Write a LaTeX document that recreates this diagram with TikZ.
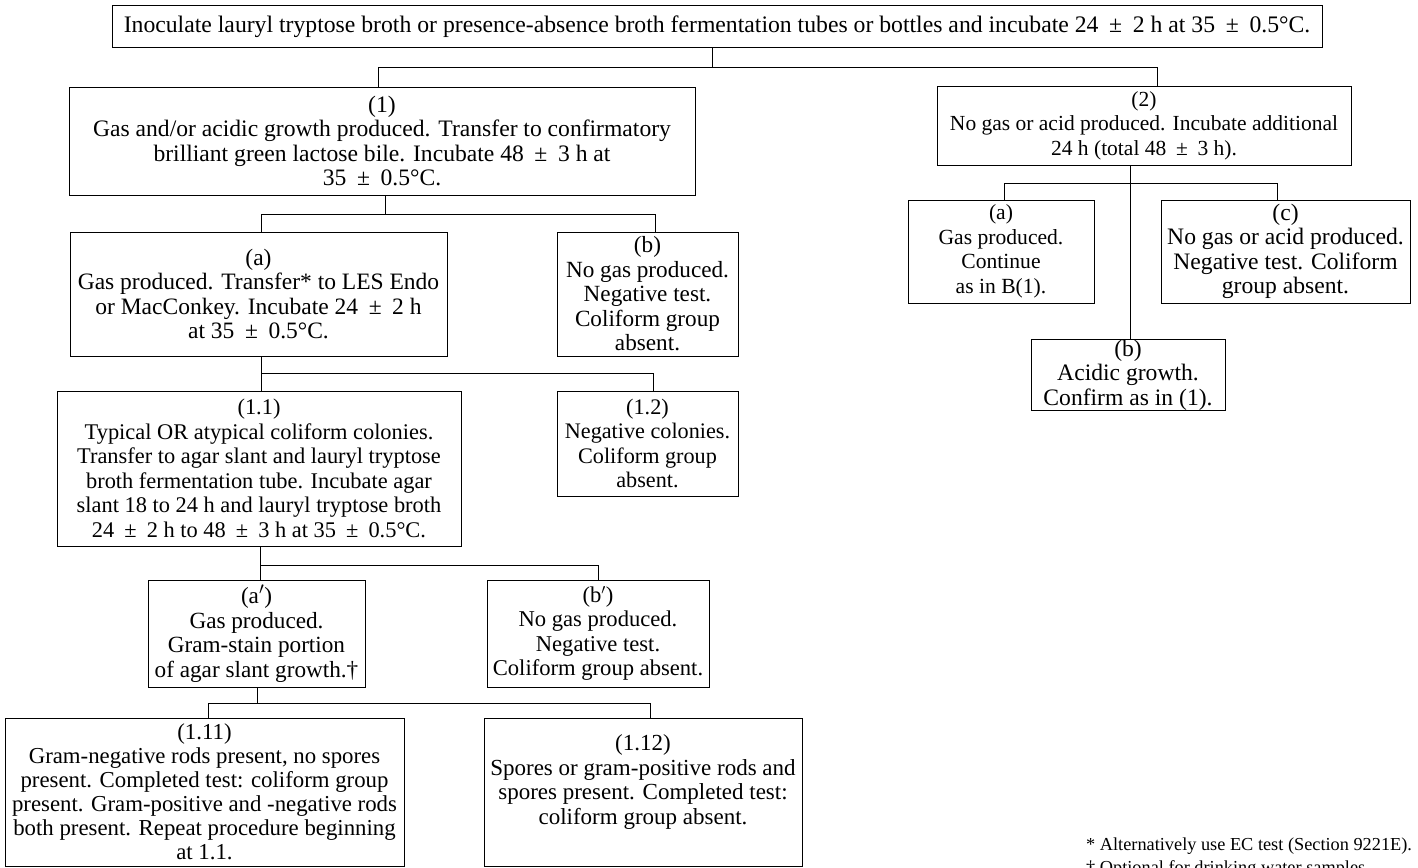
\documentclass[tikz,border=0pt]{standalone}
\usepackage{fontspec}
\setmainfont{Liberation Serif}
\newcommand{\PMs}{\hspace{0.45em}±\hspace{0.45em}}
\begin{document}
\begin{tikzpicture}[x=1pt,y=-1pt,
  box/.style={draw, line width=1pt, inner sep=0pt, align=center,
    font=\fontsize{#1}{24.5}\selectfont},
  box/.default=21,
  txt/.style={inner sep=0pt, align=center, font=\fontsize{#1}{24.5}\selectfont},
  txt/.default=21,
  conn/.style={line width=0.9pt}]
\useasboundingbox (0,0) rectangle (1418,867);
% boxes
\node[box=23.7, minimum width=1210pt, minimum height=42pt] (top) at (717,27)
 {Inoculate lauryl tryptose broth or presence-absence broth fermentation tubes or bottles and incubate 24\PMs 2 h at 35\PMs 0.5°C.};
\node[box=23.6, minimum width=626pt, minimum height=108pt] (b1) at (382,141)
 {(1)\\Gas and/or acidic growth produced. Transfer to confirmatory\\brilliant green lactose bile. Incubate 48\PMs 3 h at\\35\PMs 0.5°C.};
\node[box=21.5, minimum width=414pt, minimum height=79pt] (b2) at (1144,125.5)
 {(2)\\No gas or acid produced. Incubate additional\\24 h (total 48\PMs 3 h).};
\node[box=23.5, minimum width=377pt, minimum height=124pt] (ba) at (258.5,294)
 {(a)\\Gas produced. Transfer* to LES Endo\\or MacConkey. Incubate 24\PMs 2 h\\at 35\PMs 0.5°C.};
\node[box=23.2, minimum width=181pt, minimum height=124pt] (bb) at (647.5,294)
 {(b)\\No gas produced.\\Negative test.\\Coliform group\\absent.};
\node[box=22.4, minimum width=404pt, minimum height=155pt] (b11) at (259,468.5)
 {(1.1)\\Typical OR atypical coliform colonies.\\Transfer to agar slant and lauryl tryptose\\broth fermentation tube. Incubate agar\\slant 18 to 24 h and lauryl tryptose broth\\24\PMs 2 h to 48\PMs 3 h at 35\PMs 0.5°C.};
\node[box=22.2, minimum width=181pt, minimum height=105pt] (b12) at (647.5,443.5)
 {(1.2)\\Negative colonies.\\Coliform group\\absent.};
\node[box=23.2, minimum width=217pt, minimum height=107pt] (bap) at (256.5,633.5)
 {(a$'$)\\Gas produced.\\Gram-stain portion\\of agar slant growth.†};
\node[box=22.6, minimum width=222pt, minimum height=107pt] (bbp) at (598,633.5)
 {(b$'$)\\No gas produced.\\Negative test.\\Coliform group absent.};
\node[box=22.8, minimum width=399pt, minimum height=148pt, font=\fontsize{22.8}{24}\selectfont] (b111) at (204.5,792)
 {(1.11)\\Gram-negative rods present, no spores\\present. Completed test: coliform group\\present. Gram-positive and -negative rods\\both present. Repeat procedure beginning\\at 1.1.};
\node[box, minimum width=318pt, minimum height=148pt, anchor=north] (b112) at (643,718) {};
\node[txt=23] (t112) at (643,782)
 {(1.12)\\Spores or gram-positive rods and\\spores present. Completed test:\\coliform group absent.};
\node[box=21.6, minimum width=186pt, minimum height=103pt] (b2a) at (1001,251.5)
 {(a)\\Gas produced.\\Continue\\as in B(1).};
\node[box=23.6, minimum width=249pt, minimum height=103pt] (b2c) at (1285.5,251.5)
 {(c)\\No gas or acid produced.\\Negative test. Coliform\\group absent.};
\node[box=23.6, minimum width=194pt, minimum height=70pt] (b2b) at (1128,375)
 {(b)\\Acidic growth.\\Confirm as in (1).};
% footnotes
\node[inner sep=0pt, anchor=north west, align=left, font=\fontsize{18.3}{23}\selectfont] (fn) at (1086,838)
 {* Alternatively use EC test (Section 9221E).\\† Optional for drinking water samples.};
% junctions
\coordinate (j0) at (712,67);
\coordinate (j1L) at (378,67);  \coordinate (j1R) at (1157,67);
\coordinate (j2) at (385,214);
\coordinate (j2L) at (261,214); \coordinate (j2R) at (655,214);
\coordinate (j3) at (261,373);
\coordinate (j3R) at (653,373);
\coordinate (j4) at (260,565);
\coordinate (j4R) at (598,565);
\coordinate (j5) at (257,703);
\coordinate (j5L) at (208,703); \coordinate (j5R) at (650,703);
\coordinate (j6) at (1130,183);
\coordinate (j6L) at (1004,183); \coordinate (j6R) at (1277,183);
% connectors
\draw[conn] (top.south -| j0) -- (j0);
\draw[conn] (j1L |- b1.north) -- (j1L) -- (j1R) -- (j1R |- b2.north);
\draw[conn] (b1.south -| j2) -- (j2);
\draw[conn] (j2L |- ba.north) -- (j2L) -- (j2R) -- (j2R |- bb.north);
\draw[conn] (ba.south -| j3) -- (j3) -- (j3R) -- (j3R |- b12.north);
\draw[conn] (j3) -- (j3 |- b11.north);
\draw[conn] (b11.south -| j4) -- (j4) -- (j4R) -- (j4R |- bbp.north);
\draw[conn] (j4) -- (j4 |- bap.north);
\draw[conn] (bap.south -| j5) -- (j5);
\draw[conn] (j5L |- b111.north) -- (j5L) -- (j5R) -- (j5R |- b112.north);
\draw[conn] (b2.south -| j6) -- (j6) -- (j6 |- b2b.north);
\draw[conn] (j6L |- b2a.north) -- (j6L) -- (j6R) -- (j6R |- b2c.north);
\end{tikzpicture}
\end{document}
